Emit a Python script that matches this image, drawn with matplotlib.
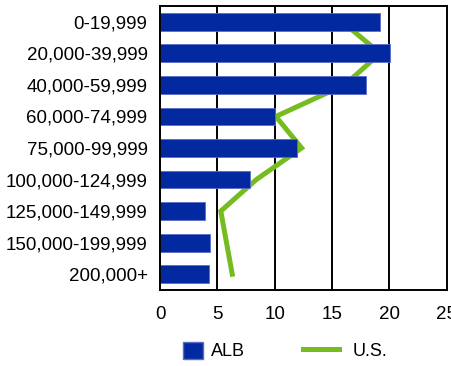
import matplotlib
matplotlib.use("Agg")
import matplotlib.pyplot as plt
from matplotlib.patches import Patch
from matplotlib.lines import Line2D

# Household income brackets and share of households (%)
categories = ["0-19,999", "20,000-39,999", "40,000-59,999", "60,000-74,999",
              "75,000-99,999", "100,000-124,999", "125,000-149,999",
              "150,000-199,999", "200,000+"]
alb = [19.2, 20.05, 17.95, 10.0, 11.95, 7.85, 3.9, 4.4, 4.25]
us = [15.9, 19.2, 16.1, 10.1, 12.35, 8.4, 5.3, 5.8, 6.3]
x_ticks = [0, 5, 10, 15, 20, 25]

BLUE = "#0329a0"
GREEN = "#76bc21"

plt.rcParams["font.family"] = ["Liberation Sans", "DejaVu Sans"]

fig = plt.figure(figsize=(4.51, 3.66), dpi=100)
ax = fig.add_axes([160 / 451, 76 / 366, (446.7 - 160) / 451, 284 / 366])

pos = list(range(len(categories)))
ax.plot(us, pos, color=GREEN, linewidth=3.6, zorder=1, solid_joinstyle="miter")
ax.barh(pos, alb, height=0.56, color=BLUE, edgecolor="#5a6cc8",
        linewidth=0.6, zorder=2)

ax.set_xlim(0, 25)
ax.set_ylim(len(categories) - 0.5, -0.5)
ax.set_xticks(x_ticks)
ax.set_xticklabels([str(t) for t in x_ticks])
ax.set_yticks(pos)
ax.set_yticklabels(categories)
ax.tick_params(axis="both", length=0, labelsize=13.5, colors="black")
ax.tick_params(axis="y", pad=9)
ax.tick_params(axis="x", pad=11.5)

for v in x_ticks[1:-1]:
    ax.axvline(v, color="black", linewidth=1.4, zorder=0.5)
for s in ax.spines.values():
    s.set_linewidth(1.4)
    s.set_color("black")

leg1 = fig.legend(handles=[Patch(facecolor=BLUE, edgecolor="#5a6cc8", label="ALB")],
                  loc="center left", bbox_to_anchor=(183 / 451, 15 / 366),
                  frameon=False, fontsize=13, handlelength=1.1, handleheight=1.1,
                  handletextpad=0.45, borderpad=0, borderaxespad=0)
leg2 = fig.legend(handles=[Line2D([], [], color=GREEN, linewidth=3.6, label="U.S.")],
                  loc="center left", bbox_to_anchor=(303 / 451, 15 / 366),
                  frameon=False, fontsize=13, handlelength=2.0,
                  handletextpad=0.75, borderpad=0, borderaxespad=0)

fig.savefig("out.png", dpi=100)
